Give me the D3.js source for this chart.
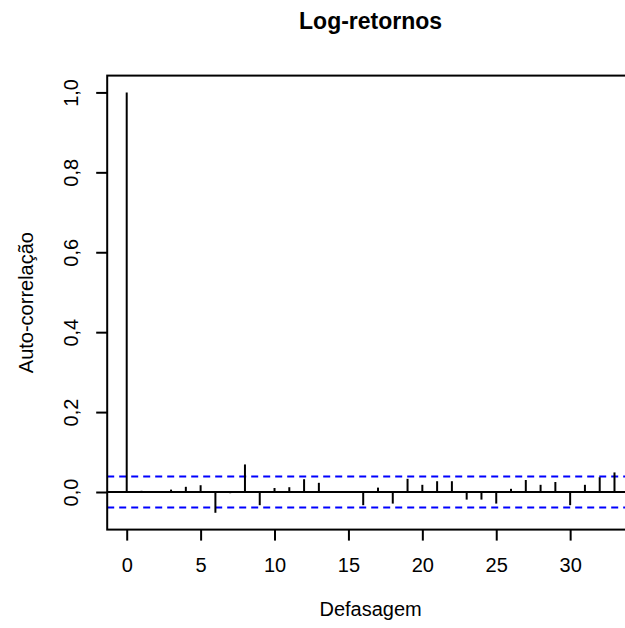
<!doctype html>
<html lang="pt">
<head>
<meta charset="utf-8">
<title>Log-retornos</title>
<script src="https://d3js.org/d3.v7.min.js"></script>
<style>
  body { margin: 0; background: #fff; }
  svg { display: block; font-family: "Liberation Sans", Arial, sans-serif; }
</style>
</head>
<body>
<div id="aqui"></div>
<script>
// defasagens e auto-correlações
var lags = d3.range(0, 34);
var acf = [1.000, 0.003, 0.001, 0.006, 0.013, 0.017, -0.052, -0.003, 0.069, -0.033,
           0.010, 0.012, 0.032, 0.023, 0.001, 0.001, -0.033, 0.011, -0.029, 0.033,
           0.018, 0.027, 0.027, -0.019, -0.019, -0.029, 0.008, 0.030, 0.018, 0.025,
           -0.033, 0.018, 0.037, 0.049];
var ci = 0.039;
var xTicks = [0, 5, 10, 15, 20, 25, 30];
var yTicks = [0, 0.2, 0.4, 0.6, 0.8, 1.0];

var w = 625, h = 628;
var svg = d3.select("#aqui").append("svg").attr("width", w).attr("height", h);

// limites como no R: alcance + 4%
var xmin = 0, xmax = d3.max(lags);
var ymin = d3.min(acf), ymax = 1;
var dx = (xmax - xmin) * 0.04, dy = (ymax - ymin) * 0.04;

var x = d3.scaleLinear().domain([xmin - dx, xmax + dx]).range([107.2, 634]);
var y = d3.scaleLinear().domain([ymin - dy, ymax + dy]).range([529.6, 75.6]);

var virgula = d3.formatLocale({decimal: ",", thousands: ".", grouping: [3], currency: ["R$", ""]});
var fy = virgula.format(".1f");

// linhas de confiança
svg.selectAll("line.ci")
  .data([ci, -ci])
  .enter().append("line")
  .attr("x1", x.range()[0]).attr("x2", x.range()[1])
  .attr("y1", function(d) { return y(d); })
  .attr("y2", function(d) { return y(d); })
  .attr("stroke", "#0000ff")
  .attr("stroke-width", 2)
  .attr("stroke-dasharray", "7,5");

// linha do zero
svg.append("line")
  .attr("x1", x.range()[0]).attr("x2", x.range()[1])
  .attr("y1", y(0)).attr("y2", y(0))
  .attr("stroke", "#000").attr("stroke-width", 2);

// barras
svg.selectAll("line.bar")
  .data(acf)
  .enter().append("line")
  .attr("class", "bar")
  .attr("x1", function(d, i) { return x(lags[i]); })
  .attr("x2", function(d, i) { return x(lags[i]); })
  .attr("y1", y(0))
  .attr("y2", function(d) { return y(d); })
  .attr("stroke", "#000")
  .attr("stroke-width", 2);

// moldura
svg.append("rect")
  .attr("x", x.range()[0]).attr("y", y.range()[1])
  .attr("width", x.range()[1] - x.range()[0])
  .attr("height", y.range()[0] - y.range()[1])
  .attr("fill", "none").attr("stroke", "#000").attr("stroke-width", 2);

// eixo x
var gx = svg.append("g")
  .attr("transform", "translate(0," + y.range()[0] + ")")
  .call(d3.axisBottom(x).tickValues(xTicks).tickSize(11).tickPadding(17));
gx.select(".domain").remove();
gx.selectAll("line").attr("stroke-width", 2);
gx.selectAll("text").style("font-size", "20px").attr("fill", "#000");

// eixo y
var gy = svg.append("g")
  .attr("transform", "translate(" + x.range()[0] + ",0)")
  .call(d3.axisLeft(y).tickValues(yTicks).tickSize(11).tickFormat(fy));
gy.select(".domain").remove();
gy.selectAll("line").attr("stroke-width", 2);
gy.selectAll("text")
  .style("font-size", "20px").attr("fill", "#000")
  .attr("x", 0).attr("dy", null)
  .attr("text-anchor", "middle")
  .attr("transform", "translate(-29,0) rotate(-90)");

// títulos
var cx = (x.range()[0] + x.range()[1]) / 2;
svg.append("text")
  .attr("x", cx).attr("y", 29)
  .attr("text-anchor", "middle")
  .style("font-size", "23px").style("font-weight", "bold")
  .text("Log-retornos");

svg.append("text")
  .attr("x", cx).attr("y", 616)
  .attr("text-anchor", "middle")
  .style("font-size", "20px")
  .text("Defasagem");

svg.append("text")
  .attr("transform", "translate(33," + ((y.range()[0] + y.range()[1]) / 2) + ") rotate(-90)")
  .attr("text-anchor", "middle")
  .style("font-size", "20px")
  .text("Auto-correlação");
</script>
</body>
</html>
